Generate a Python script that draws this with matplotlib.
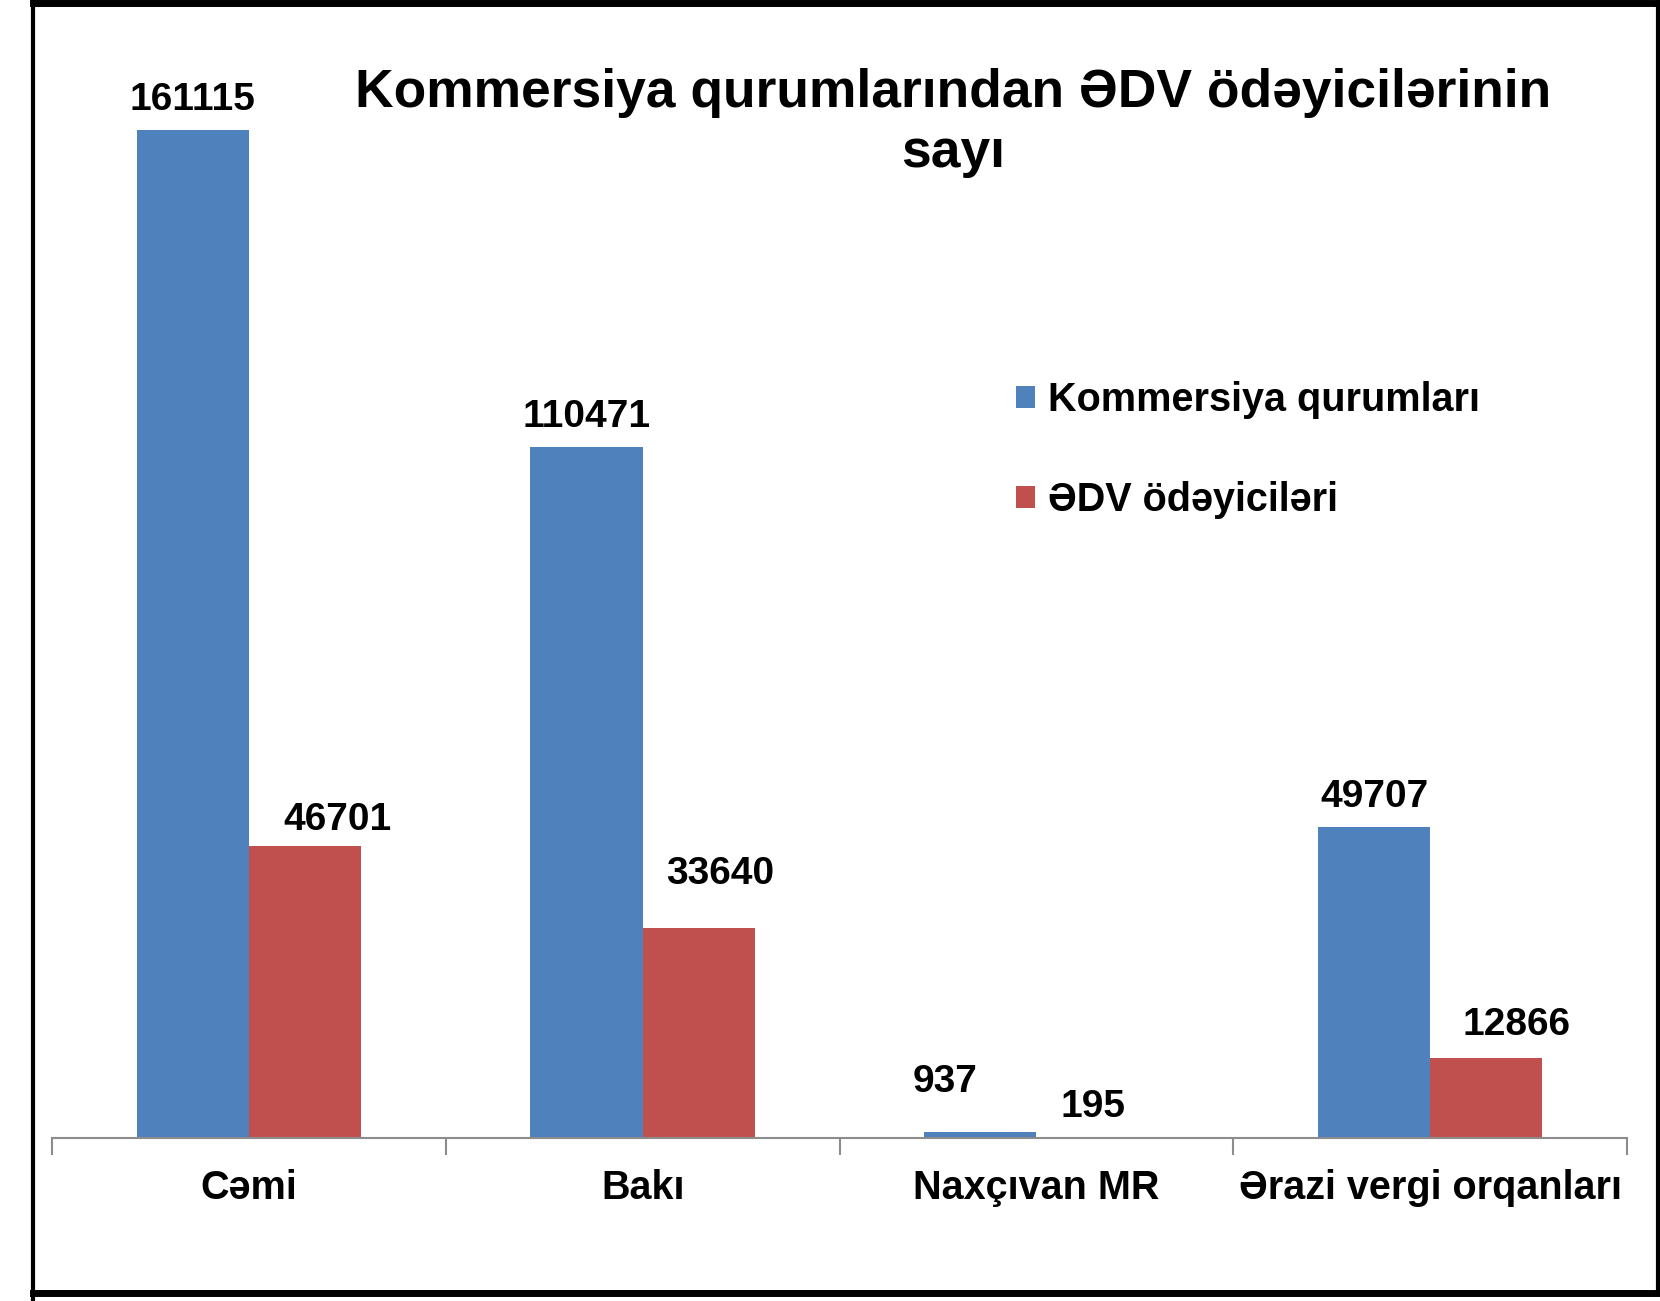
import matplotlib
matplotlib.use("Agg")
import matplotlib.pyplot as plt
from matplotlib.lines import Line2D
import numpy as np

categories = ["Cəmi", "Bakı", "Naxçıvan MR", "Ərazi vergi orqanları"]
kommersiya = [161115, 110471, 937, 49707]
edv = [46701, 33640, 195, 12866]
series_names = ["Kommersiya qurumları", "ƏDV ödəyiciləri"]
title = "Kommersiya qurumlarından ƏDV ödəyicilərinin\nsayı"

plt.rcParams['font.family'] = ['Liberation Sans', 'DejaVu Sans']
W, H = 1660, 1301
fig = plt.figure(figsize=(W / 100, H / 100), dpi=100)

def fx(px):
    return px / W

def fy(py):
    return 1 - py / H

ax = fig.add_axes([fx(52), fy(1138), fx(1627) - fx(52), fy(12) - fy(1138)])
x = np.arange(len(categories))
w = 0.285
b1 = ax.bar(x - w / 2, kommersiya, w, color="#4F81BD", label=series_names[0])
b2 = ax.bar(x + w / 2, edv, w, color="#C0504D", label=series_names[1])
ax.set_xlim(-0.5, len(categories) - 0.5)
ax.set_ylim(0, 180000)

for s in ["top", "right", "left"]:
    ax.spines[s].set_visible(False)
ax.spines["bottom"].set_color("#8c8c8c")
ax.spines["bottom"].set_linewidth(1.5)
ax.set_yticks([])
ax.set_xticks(np.arange(-0.5, len(categories)), minor=False)
ax.set_xticklabels([])
ax.tick_params(axis="x", length=12, width=1.5, color="#8c8c8c")
for i, c in enumerate(categories):
    ax.annotate(c, (i, 0), xytext=(0, -50), textcoords="offset pixels",
                ha="center", va="center", fontsize=28.5, fontweight="bold")

# manual nudges for label placement (pixels), keyed by (series, category)
nudge = {(0, 2): (-35, 20), (1, 0): (33, -4), (1, 1): (21, 24),
         (1, 3): (30, 3), (1, 2): (1, 0)}
for si, (bars, vals) in enumerate([(b1, kommersiya), (b2, edv)]):
    for ci, (r, v) in enumerate(zip(bars, vals)):
        dx, dy = nudge.get((si, ci), (0, 0))
        ax.annotate(f"{v}", (r.get_x() + r.get_width() / 2, v),
                    xytext=(dx, 30 + dy), textcoords="offset pixels",
                    ha="center", va="center", fontsize=28, fontweight="bold")

leg = fig.legend(handles=[b1, b2], labels=series_names,
                 loc="upper left", bbox_to_anchor=(fx(1016), fy(381)),
                 frameon=False, prop={"size": 28.5, "weight": "bold"},
                 handlelength=0.48, handleheight=0.48, labelspacing=1.57,
                 handletextpad=0.33, borderpad=0, borderaxespad=0)

fig.text(fx(953), fy(123), title, ha="center", va="center",
         fontsize=38.4, fontweight="bold", linespacing=1.25)

# frame
fig.add_artist(Line2D([fx(33), fx(33)], [fy(0), fy(1301)], color="black", lw=3))
fig.add_artist(Line2D([fx(33), fx(1660)], [fy(3), fy(3)], color="black", lw=5))
fig.add_artist(Line2D([fx(33), fx(1660)], [fy(1293), fy(1293)], color="black", lw=5))
fig.add_artist(Line2D([fx(1658), fx(1658)], [fy(0), fy(1293)], color="black", lw=3))

fig.savefig("out.png", dpi=100)
